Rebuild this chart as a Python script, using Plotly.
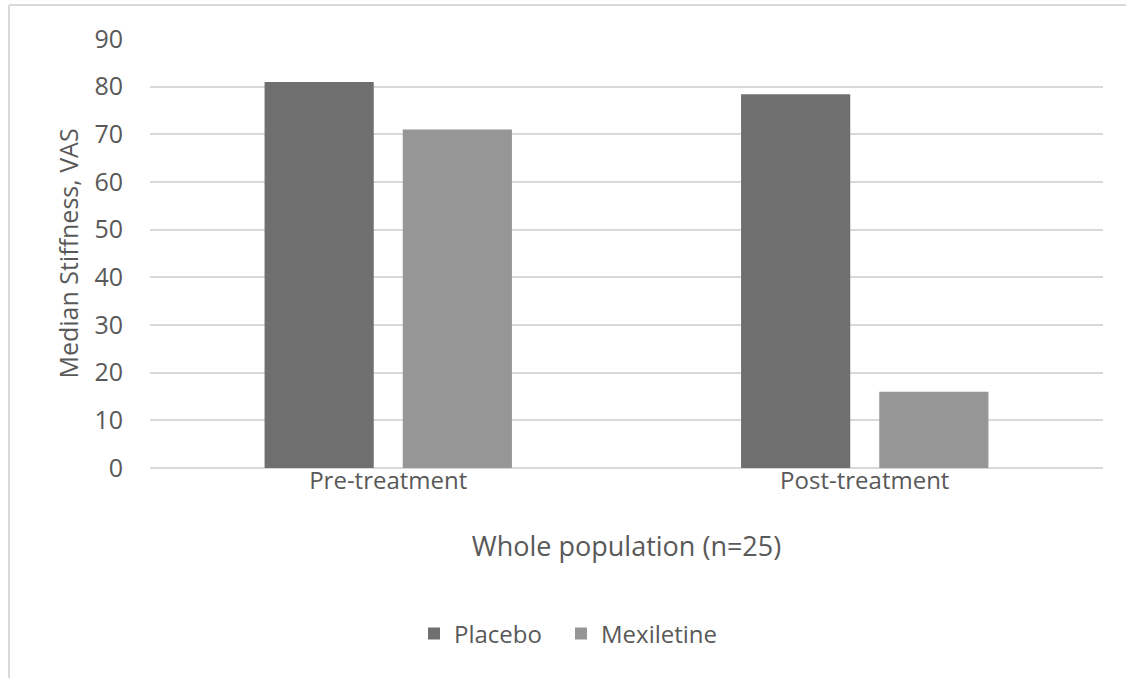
import plotly.graph_objects as go

# Median stiffness (VAS) by treatment phase
phases = ["Pre-treatment", "Post-treatment"]
placebo = [81, 78.4]
mexiletine = [71, 16]
y_ticks = [0, 10, 20, 30, 40, 50, 60, 70, 80, 90]

FONT = "Open Sans"
TXT = "#595959"

fig = go.Figure()
fig.add_trace(go.Bar(name="Placebo", x=phases, y=placebo, legend="legend",
                     marker=dict(color="#6f6f6f", line=dict(width=0))))
fig.add_trace(go.Bar(name="Mexiletine", x=phases, y=mexiletine, legend="legend2",
                     marker=dict(color="#969696", line=dict(width=0))))

W, H = 1126, 678
L, R, T, B = 150, 23, 39, 210
pw, ph = W - L - R, H - T - B

def px_x(p):
    return (p - L) / pw

def px_y(p):
    return (H - B - p) / ph

# outer frame (left and top edges of the chart area)
frame = dict(color="#d9d9d9", width=2)
fig.add_shape(type="line", xref="paper", yref="paper",
              x0=px_x(9), x1=px_x(W + 5), y0=px_y(5), y1=px_y(5), line=frame)
fig.add_shape(type="line", xref="paper", yref="paper",
              x0=px_x(9), x1=px_x(9), y0=px_y(5), y1=px_y(H + 5), line=frame)

legend_style = dict(orientation="h", yanchor="middle", y=px_y(634), xanchor="left",
                    font=dict(size=24, color=TXT), itemwidth=30, bgcolor="rgba(0,0,0,0)")

fig.update_layout(
    width=W, height=H,
    margin=dict(l=L, r=R, t=T, b=B, autoexpand=False),
    paper_bgcolor="white", plot_bgcolor="white",
    barmode="group", bargap=0.42, bargroupgap=0.21,
    font=dict(family=FONT, color=TXT, size=18),
    xaxis=dict(
        showgrid=False, showline=False, ticks="",
        tickfont=dict(size=24, color=TXT), ticklabelstandoff=-4,
        title=dict(text="Whole population (n=25)", font=dict(size=27, color=TXT), standoff=42),
    ),
    yaxis=dict(
        range=[0, 90], tickvals=y_ticks, ticks="",
        showgrid=True, gridcolor="#d9d9d9", gridwidth=1.5,
        zeroline=True, zerolinecolor="#d9d9d9", zerolinewidth=1.5,
        showline=False, tickfont=dict(size=25, color=TXT), ticklabelstandoff=26,
        title=dict(text="Median Stiffness, VAS", font=dict(size=25, color=TXT), standoff=8),
    ),
    legend=dict(x=px_x(414), **legend_style),
    legend2=dict(x=px_x(561), **legend_style),
    showlegend=True,
)

fig.write_html("out.html")
